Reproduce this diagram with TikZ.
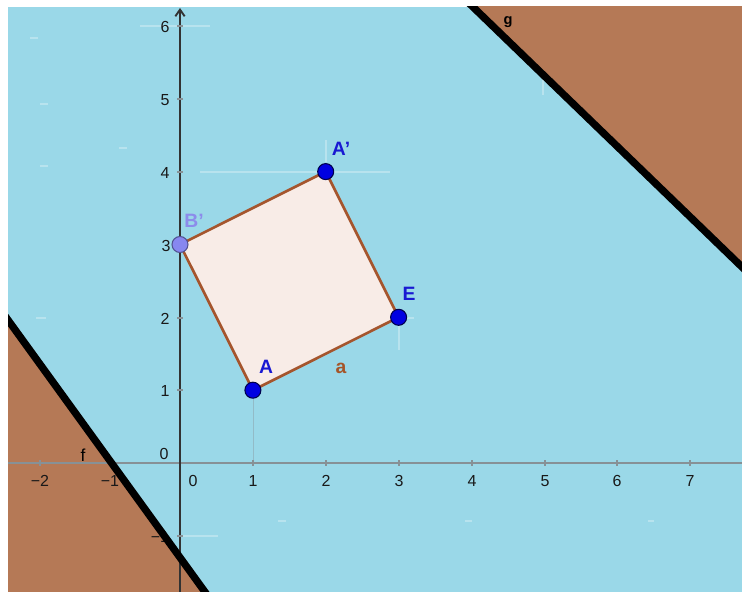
\documentclass[tikz,border=0pt]{standalone}
\usepackage{fontspec}
\setmainfont{Liberation Sans}
\usetikzlibrary{arrows.meta,calc}
\definecolor{skyb}{RGB}{154,216,232}
\definecolor{clay}{RGB}{181,121,86}
\definecolor{sqfill}{RGB}{248,236,231}
\definecolor{sqedge}{RGB}{165,85,45}
\definecolor{ptblue}{RGB}{0,0,225}
\definecolor{ptlilac}{RGB}{135,135,240}
\definecolor{labblue}{RGB}{25,25,210}
\definecolor{lablilac}{RGB}{140,140,235}
\definecolor{axgray}{RGB}{50,50,50}
\definecolor{xaxgray}{RGB}{135,145,150}
\definecolor{tickgray}{RGB}{25,25,25}
\definecolor{labbrown}{RGB}{165,85,40}
\begin{document}
\begin{tikzpicture}[x=0.75pt,y=-0.75pt,
  ticklab/.style={font=\fontsize{12}{14}\selectfont, text=tickgray, inner sep=0pt},
  ptlab/.style={font=\fontsize{14.5}{17}\selectfont\bfseries, inner sep=0pt},
  pointdot/.style={circle, minimum size=12pt, inner sep=0pt, line width=0.8pt},
  bound/.style={line width=5.5pt, black},
  ghost/.style={white, opacity=0.3, line width=0.8pt}]
\useasboundingbox (0,0) rectangle (742,592);
% background half-planes
\fill[skyb] (8,7) rectangle (742,592);
\coordinate (f1) at (8,320);
\coordinate (f2) at (205,592);
\coordinate (g1) at (473,7);
\coordinate (g2) at (742,267);
\begin{scope}
\clip (8,7) rectangle (742,592);
\fill[clay] ($(f1)!-0.2!(f2)$) -- ($(f1)!1.2!(f2)$) -- (-200,700) -- cycle;
\fill[clay] ($(g1)!-0.2!(g2)$) -- ($(g1)!1.2!(g2)$) -- (900,-100) -- cycle;
\end{scope}
% faint artefact lines
\draw[ghost] (140,26) -- (210,26);
\draw[ghost] (200,172) -- (318,172);
\draw[ghost] (334,172) -- (390,172);
\draw[ghost] (326,140) -- (326,162);
\draw[ghost] (404,318) -- (414,318);
\draw[ghost] (399,326) -- (399,350);
\draw[xaxgray, opacity=0.4, line width=0.6pt] (326,318) -- (326,355);
\draw[xaxgray, opacity=0.4, line width=0.6pt] (253,398) -- (253,463);
\draw[ghost] (180,536) -- (218,536);
\draw[ghost] (543,75) -- (543,95);
\draw[ghost] (30,38) -- (38,38);
\draw[ghost] (40,104) -- (48,104);
\draw[ghost] (119,148) -- (127,148);
\draw[ghost] (40,166) -- (48,166);
\draw[ghost] (36,318) -- (46,318);
\draw[ghost] (278,521) -- (286,521);
\draw[ghost] (465,521) -- (472,521);
\draw[ghost] (648,521) -- (654,521);
% axes
\draw[xaxgray, line width=1.4pt] (8,463) -- (742,463);
\draw[axgray, line width=1.4pt, -{Straight Barb[length=5pt,width=7pt]}] (180,592) -- (180,8);
\foreach \px in {40,110,253,326,399,472,545,617,690}
  \draw[xaxgray, line width=0.8pt] (\px,460) -- (\px,466);
\foreach \py in {26,99,172,245,318,390,536}
  \draw[xaxgray, line width=0.8pt] (177,\py) -- (183,\py);
% tick labels
\node[ticklab] (xm2) at (40,481) {−2};
\node[ticklab] (xm1) at (110,481) {−1};
\node[ticklab] (x0) at (193,481) {0};
\node[ticklab] (x1) at (253,481) {1};
\node[ticklab] (x2) at (326,481) {2};
\node[ticklab] (x3) at (399,481) {3};
\node[ticklab] (x4) at (472,481) {4};
\node[ticklab] (x5) at (545,481) {5};
\node[ticklab] (x6) at (617,481) {6};
\node[ticklab] (x7) at (690,481) {7};
\node[ticklab] (y6) at (165,27) {6};
\node[ticklab] (y5) at (165,100) {5};
\node[ticklab] (y4) at (165,173) {4};
\node[ticklab] (y3) at (166,246) {3};
\node[ticklab] (y2) at (165,319) {2};
\node[ticklab] (y1) at (165,391) {1};
\node[ticklab] (y0) at (164,454) {0};
\node[ticklab] (ym1) at (160,537) {−1};
% boundary lines
\begin{scope}
\clip (8,7) rectangle (742,592);
\draw[bound] ($(f1)!-0.2!(f2)$) -- ($(f1)!1.2!(f2)$);
\draw[bound] ($(g1)!-0.2!(g2)$) -- ($(g1)!1.2!(g2)$);
\end{scope}
\node[font=\fontsize{13}{15}\selectfont, inner sep=0pt] (flab) at (83,455) {f};
\node[font=\fontsize{11}{13}\selectfont\bfseries, text=black, inner sep=0pt] (glab) at (508,22) {g};
% square
\coordinate (cA) at (252.9,390.2);
\coordinate (cE) at (398.6,317.3);
\coordinate (cAp) at (325.7,171.6);
\coordinate (cBp) at (180,244.5);
\fill[sqfill] (cA) -- (cE) -- (cAp) -- (cBp) -- cycle;
\draw[sqedge, line width=2pt, line join=round] (cA) -- (cE) -- (cAp) -- (cBp) -- cycle;
% points
\node[pointdot, fill=ptblue, draw=black!70!blue] (A) at (cA) {};
\node[pointdot, fill=ptblue, draw=black!70!blue] (E) at (cE) {};
\node[pointdot, fill=ptblue, draw=black!70!blue] (Ap) at (cAp) {};
\node[pointdot, fill=ptlilac, draw=black!40!ptlilac] (Bp) at (cBp) {};
% labels
\node[ptlab, text=labblue] (Alab) at (266,367) {A};
\node[ptlab, text=labblue] (Elab) at (409,294) {E};
\node[ptlab, text=labblue] (Aplab) at (341,149) {A'};
\node[ptlab, text=lablilac] (Bplab) at (194,221) {B'};
\node[ptlab, text=labbrown] (alab) at (341,368) {a};
\end{tikzpicture}
\end{document}
